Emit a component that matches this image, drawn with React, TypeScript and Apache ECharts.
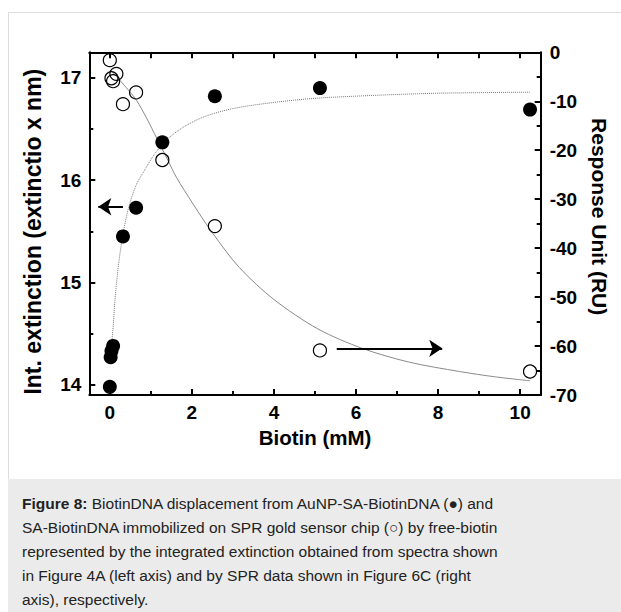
import React, { useEffect, useRef } from "react";
import * as echarts from "echarts";

// ---- data ----
const biotinFilled = [0, 0.02, 0.04, 0.08, 0.32, 0.64, 1.28, 2.56, 5.12, 10.24];
const extinction = [13.98, 14.27, 14.33, 14.38, 15.45, 15.73, 16.37, 16.82, 16.9, 16.69];

const biotinOpen = [0, 0.04, 0.08, 0.16, 0.32, 0.64, 1.28, 2.56, 5.12, 10.24];
const responseRU = [-1.6, -5.3, -5.9, -4.4, -10.6, -8.2, -22.0, -35.5, -60.9, -65.2];

// fitted curves
const fitExtX = [0.04, 0.06, 0.08, 0.12, 0.16, 0.22, 0.32, 0.45, 0.64, 0.85, 1.1, 1.4, 1.8, 2.3, 3.0, 4.0, 5.0, 6.5, 8.0, 10.24];
const fitExtY = [14.35, 14.47, 14.56, 14.8, 14.98, 15.2, 15.47, 15.72, 15.95, 16.1, 16.26, 16.4, 16.52, 16.62, 16.7, 16.76, 16.8, 16.83, 16.85, 16.86];

const fitRuX = [0.05, 0.2, 0.4, 0.65, 0.9, 1.14, 1.4, 1.62, 2.03, 2.51, 3.16, 4.0, 5.07, 6.16, 7.3, 8.52, 9.4, 10.24];
const fitRuY = [-4.0, -5.3, -7.2, -9.8, -13.5, -17.5, -21.8, -25.5, -31.0, -37.0, -44.0, -50.5, -56.5, -60.5, -63.3, -65.2, -66.3, -67.1];

// arrows (data coordinates: tail, tip)
const leftArrowX = [0.32, -0.28];
const leftArrowY = 15.74;
const rightArrowX = [5.53, 8.1];
const rightArrowY = -60.46;

// ticks
const xMajorTicks = [0, 2, 4, 6, 8, 10];
const xMinorTicks = [1, 3, 5, 7, 9];
const xTopTicks = [0, 1, 2, 3, 4, 5, 6, 7, 8, 9, 10];
const leftMajorTicks = [14, 15, 16, 17];
const leftMinorTicks = [14.5, 15.5, 16.5];

const captionLines = [
  "{b|Figure 8:} BiotinDNA displacement from AuNP-SA-BiotinDNA (●) and",
  "SA-BiotinDNA immobilized on SPR gold sensor chip (○) by free-biotin",
  "represented by the integrated extinction obtained from spectra shown",
  "in Figure 4A (left axis) and by SPR data shown in Figure 6C (right",
  "axis), respectively.",
];

const FONT = "Liberation Sans, Arial, Helvetica, sans-serif";

export default function App() {
  const ref = useRef<HTMLDivElement>(null);

  useEffect(() => {
    if (!ref.current) return;
    const chart = echarts.init(ref.current, undefined, { renderer: "svg" });

    const axisLine = { show: true, onZero: false, lineStyle: { color: "#000", width: 2 } };
    const hiddenLine = { show: false, onZero: false };
    const tickStyle = { color: "#000", width: 2 };
    const labelStyle = { color: "#000", fontSize: 19, fontWeight: "bold" as const, fontFamily: FONT };
    const xMin = -0.5;
    const xMax = 10.5;
    const lMin = 13.9;
    const lMax = 17.25;

    const arrowMark = (x0: number, x1: number, y: number) => ({
      silent: true,
      symbol: ["none", "arrow"],
      symbolSize: 13,
      label: { show: false },
      emphasis: { disabled: true },
      lineStyle: { color: "#000", width: 2, type: "solid", opacity: 1 },
      itemStyle: { color: "#000" },
      data: [[{ coord: [x0, y] }, { coord: [x1, y] }]],
    });

    const option: any = {
      animation: false,
      backgroundColor: "#fff",
      grid: {
        left: 89.3,
        right: 80.3,
        top: 52.3,
        bottom: 217,
        containLabel: false,
        outerBoundsMode: "none",
      },
      xAxis: [
        {
          type: "value",
          position: "bottom",
          min: xMin,
          max: xMax,
          axisLine,
          axisTick: { show: true, inside: true, length: 6, customValues: xMajorTicks, lineStyle: tickStyle },
          axisLabel: { ...labelStyle, customValues: xMajorTicks, margin: 8 },
          splitLine: { show: false },
          name: "Biotin (mM)",
          nameLocation: "middle",
          nameGap: 31,
          nameTextStyle: { color: "#000", fontSize: 20.5, fontWeight: "bold", fontFamily: FONT },
        },
        {
          type: "value",
          position: "bottom",
          min: xMin,
          max: xMax,
          axisLine: hiddenLine,
          axisTick: { show: true, inside: true, length: 4, customValues: xMinorTicks, lineStyle: tickStyle },
          axisLabel: { show: false },
          splitLine: { show: false },
        },
        {
          type: "value",
          position: "top",
          min: xMin,
          max: xMax,
          axisLine,
          axisTick: { show: true, inside: true, length: 6, customValues: xTopTicks, lineStyle: tickStyle },
          axisLabel: { show: false },
          splitLine: { show: false },
        },
      ],
      yAxis: [
        {
          type: "value",
          position: "left",
          min: lMin,
          max: lMax,
          axisLine,
          axisTick: { show: true, inside: true, length: 6, customValues: leftMajorTicks, lineStyle: tickStyle },
          axisLabel: { ...labelStyle, customValues: leftMajorTicks, margin: 8 },
          splitLine: { show: false },
          name: "Int. extinction (extinctio x nm)",
          nameLocation: "middle",
          nameRotate: 90,
          nameGap: 45,
          nameTextStyle: {
            color: "#000",
            fontSize: 23,
            fontWeight: "bold",
            fontFamily: FONT,
            padding: [0, 16, 0, 0],
          },
        },
        {
          type: "value",
          position: "right",
          min: -70,
          max: 0,
          interval: 10,
          axisLine,
          axisTick: { show: true, inside: true, length: 6, lineStyle: tickStyle },
          minorTick: { show: true, splitNumber: 2, length: 4, lineStyle: tickStyle },
          axisLabel: { ...labelStyle, margin: 9 },
          splitLine: { show: false },
          name: "Response Unit (RU)",
          nameLocation: "middle",
          nameRotate: -90,
          nameGap: 48,
          nameTextStyle: {
            color: "#000",
            fontSize: 21,
            fontWeight: "bold",
            fontFamily: FONT,
            padding: [0, 14, 0, 0],
          },
        },
        {
          type: "value",
          position: "left",
          min: lMin,
          max: lMax,
          axisLine: hiddenLine,
          axisTick: { show: true, inside: true, length: 4, customValues: leftMinorTicks, lineStyle: tickStyle },
          axisLabel: { show: false },
          splitLine: { show: false },
        },
      ],
      series: [
        {
          name: "fitExt",
          type: "line",
          xAxisIndex: 0,
          yAxisIndex: 0,
          data: fitExtX.map((x, i) => [x, fitExtY[i]]),
          showSymbol: false,
          smooth: 0.3,
          silent: true,
          lineStyle: { color: "#777", width: 1, type: "dotted" },
          z: 1,
        },
        {
          name: "fitRU",
          type: "line",
          xAxisIndex: 0,
          yAxisIndex: 1,
          data: fitRuX.map((x, i) => [x, fitRuY[i]]),
          showSymbol: false,
          smooth: 0.3,
          silent: true,
          lineStyle: { color: "#8a8a8a", width: 1, type: "solid" },
          z: 1,
        },
        {
          name: "AuNP",
          type: "scatter",
          xAxisIndex: 0,
          yAxisIndex: 0,
          data: biotinFilled.map((x, i) => [x, extinction[i]]),
          symbol: "circle",
          symbolSize: 14,
          itemStyle: { color: "#000", opacity: 1 },
          z: 3,
          markLine: arrowMark(leftArrowX[0], leftArrowX[1], leftArrowY),
        },
        {
          name: "SPR",
          type: "scatter",
          xAxisIndex: 0,
          yAxisIndex: 1,
          data: biotinOpen.map((x, i) => [x, responseRU[i]]),
          symbol: "circle",
          symbolSize: 13,
          itemStyle: { color: "rgba(0,0,0,0)", borderColor: "#000", borderWidth: 1.2, opacity: 1 },
          z: 3,
          markLine: arrowMark(rightArrowX[0], rightArrowX[1], rightArrowY),
        },
      ],
      graphic: [
        {
          type: "line",
          shape: { x1: 8, y1: 12.5, x2: 621, y2: 12.5 },
          style: { stroke: "#dddddd", lineWidth: 1 },
          silent: true,
        },
        {
          type: "line",
          shape: { x1: 8.5, y1: 12, x2: 8.5, y2: 480 },
          style: { stroke: "#dddddd", lineWidth: 1 },
          silent: true,
        },
        {
          type: "rect",
          shape: { x: 8, y: 479, width: 613, height: 133 },
          style: { fill: "#ebebeb" },
          silent: true,
        },
        {
          type: "text",
          x: 22,
          y: 491,
          silent: true,
          style: {
            text: captionLines.join("\n"),
            fill: "#222",
            fontSize: 15.5,
            fontFamily: FONT,
            lineHeight: 24,
            verticalAlign: "top",
            align: "left",
            rich: {
              b: { fontWeight: "bold", fontSize: 15.5, fontFamily: FONT, lineHeight: 24, fill: "#222" },
            },
          },
        },
      ],
    };

    chart.setOption(option);
    return () => chart.dispose();
  }, []);

  return (
    <div
      ref={ref}
      style={{ position: "fixed", left: 0, top: 0, width: 621, height: 612, background: "#fff" }}
    />
  );
}
